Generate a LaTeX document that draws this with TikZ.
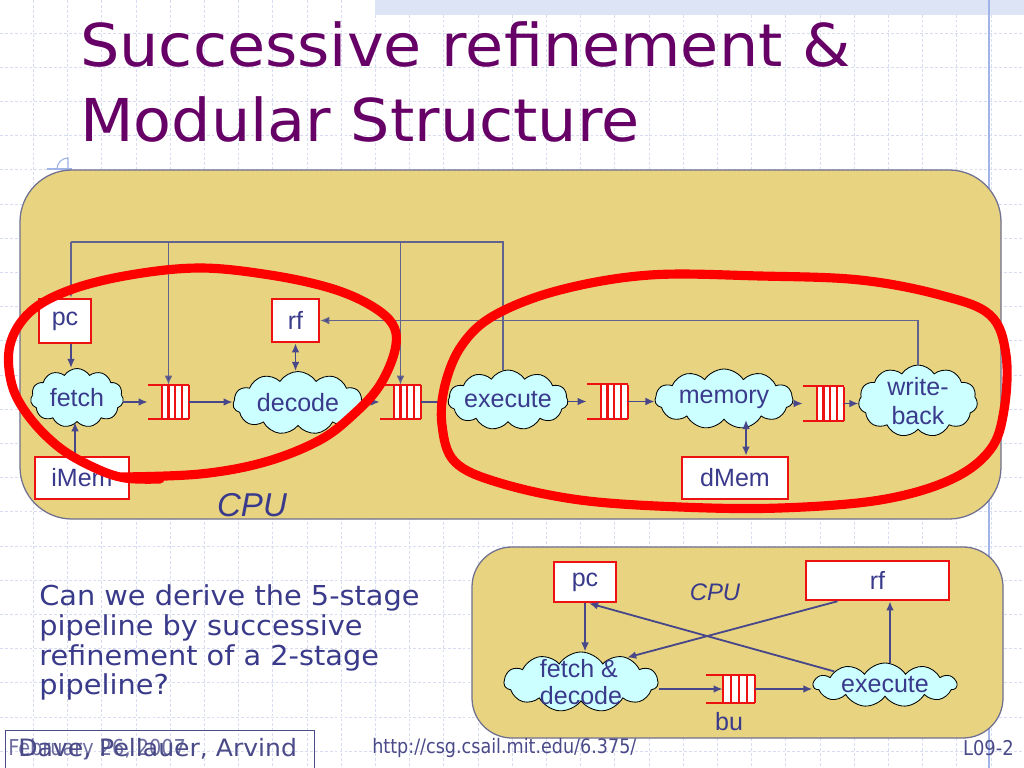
\documentclass[tikz,border=0pt]{standalone}
\usepackage{fontspec}
\setmainfont{Liberation Sans}
\newfontfamily\tahoma{DejaVu Sans}[FakeStretch=1.05]
\newfontfamily\tahomanarrow{DejaVu Sans}[FakeStretch=0.88]
\usetikzlibrary{shapes.symbols,arrows.meta,calc}
\definecolor{titlepurple}{HTML}{660066}
\definecolor{navy}{HTML}{3A3A8C}
\definecolor{arrowblue}{HTML}{47478A}
\definecolor{busgray}{HTML}{62628F}
\definecolor{boxfill}{HTML}{E8D480}
\definecolor{boxedge}{HTML}{707090}
\definecolor{cloudfill}{HTML}{CCFFFF}
\definecolor{regred}{HTML}{EE1111}
\definecolor{gridc}{HTML}{D8DCF0}
\definecolor{bandc}{HTML}{DCE4F6}
\definecolor{vlinec}{HTML}{A0B4E8}
\definecolor{bodyblue}{HTML}{3A3A8A}
\definecolor{footc}{HTML}{4A4A88}
\newcommand\pxu{0.025cm}
\tikzset{
  gridline/.style={draw=gridc, line width=0.7pt, dash pattern=on 2pt off 1.5pt},
  dtext/.style={text=navy, font=\fontsize{17.8}{20}\selectfont},
  reg/.style={dtext, draw=regred, fill=white, line width=1.8pt, inner sep=0pt},
  cl/.style={dtext, cloud, cloud puffs=11, cloud puff arc=115, cloud ignores aspect,
     draw=black, line width=0.6pt, fill=cloudfill, inner sep=-8pt, align=center},
  fifoline/.style={draw=regred, line width=1.6pt},
  arr/.style={draw=arrowblue, line width=1.3pt, -{Latex[length=6.5pt,width=5.5pt]}},
  arrtwo/.style={draw=arrowblue, line width=1.3pt, {Latex[length=6.5pt,width=5.5pt]}-{Latex[length=6.5pt,width=5.5pt]}},
  bus/.style={draw=busgray, line width=0.9pt},
  busarr/.style={draw=busgray, line width=0.9pt, -{Latex[length=6.5pt,width=5.5pt,fill=arrowblue]}},
  redloop/.style={draw=red, line width=6.5pt, line cap=round, line join=round},
}
\newcommand\fifobox[6]{%
  \node[inner sep=0pt, minimum width=#4*\pxu, minimum height=#5*\pxu] (#1) at (#2,#3) {};
  \fill[white] ([xshift=#6*\pxu]#1.south west) rectangle (#1.north east);
  \draw[fifoline] (#1.north west) -- (#1.north east) (#1.south west) -- (#1.south east);
  \foreach \k in {0,...,4}{\draw[fifoline] ($(#1.south west)+({#6+\k*(#4-#6)/4},0)$) -- ++(0,-#5);}
}
\begin{document}
\begin{tikzpicture}[x=0.025cm,y=-0.025cm]
\useasboundingbox (0,0) rectangle (1024,768);
\fill[white] (0,0) rectangle (1024,768);
% grid
\foreach \g in {0,...,29}{\draw[gridline] ({33.5+34.2*\g},0) -- ({33.5+34.2*\g},768);}
\foreach \g in {0,...,21}{\draw[gridline] (0,{33+34.2*\g}) -- (1024,{33+34.2*\g});}
\fill[bandc] (375,0) rectangle (1024,15);
\draw[vlinec, line width=0.9pt] (989,0) -- (989,768);
% small template mark
\draw[vlinec, line width=0.8pt] (47,169) -- (72,169);
\draw[vlinec, line width=0.8pt] (57,169) arc[start angle=180, end angle=90, radius=11*\pxu] -- (68,169);

% title
\node[anchor=base west, inner sep=0pt, text=titlepurple, font=\tahoma\fontsize{42}{50}\selectfont] (t1) at (80,67) {Successive refinement \&};
\node[anchor=base west, inner sep=0pt, text=titlepurple, font=\tahoma\fontsize{42}{50}\selectfont] (t2) at (80,142) {Modular Structure};

% big CPU box
\draw[fill=boxfill, draw=boxedge, line width=0.9pt, rounded corners=1.3cm] (20,170) rectangle (1001,519);

% registers
\node[reg, minimum width=52*\pxu, minimum height=44*\pxu] (pc) at (65,321) {pc};
\node[reg, minimum width=47*\pxu, minimum height=43*\pxu] (rf) at (295.5,320.5) {rf};
\node[reg, minimum width=94*\pxu, minimum height=42*\pxu] (im) at (82,478) {iMem};
\node[reg, minimum width=106*\pxu, minimum height=42*\pxu] (dm) at (735,478) {dMem};

% clouds
\node[cl, minimum width=93*\pxu, minimum height=59*\pxu] (fe) at (77,398) {fetch};
\node[cl, minimum width=130*\pxu, minimum height=63*\pxu] (de) at (298,403) {decode};
\node[cl, minimum width=120*\pxu, minimum height=60*\pxu] (ex) at (508,400) {execute};
\node[cl, minimum width=138*\pxu, minimum height=60*\pxu] (me) at (724,399) {memory};
\node[cl, minimum width=119*\pxu, minimum height=72*\pxu, font=\fontsize{17.8}{20}\selectfont] (wb) at (918,401) {write-\\back};

% fifos
\fifobox{f1}{168.5}{402}{41}{34}{14}
\fifobox{f2}{400.5}{402}{41}{34}{14}
\fifobox{f3}{607.5}{401.5}{41}{34}{14}
\fifobox{f4}{823.5}{403.5}{41}{34}{14}

% bus wires
\coordinate (busL) at (71,242);
\coordinate (exTop) at ([xshift=-5*\pxu]ex.north);
\draw[bus] (exTop) |- (busL);
\draw[busarr] (busL) -- (busL |- pc.north);
\draw[busarr] (f1.north |- busL) -- (f1.north);
\draw[busarr] (f2.north |- busL) -- (f2.north);
\draw[busarr] (wb.north) |- (rf.east);

% pipeline arrows
\draw[arr] (busL |- pc.south) -- (busL |- fe.north);
\coordinate (imTop) at ([xshift=-7*\pxu]im.north);
\draw[arr] (imTop) -- (imTop |- fe.south);
\draw[arrtwo] (rf.south) -- (rf.south |- de.north);
\coordinate (dmTop) at ([xshift=11*\pxu]dm.north);
\draw[arrtwo] (dmTop) -- (dmTop |- me.south);
\draw[arr] (fe.east |- f1.west) -- (f1.west);
\draw[arr] (f1.east) -- (de.west |- f1.east);
\draw[arr] (de.east |- f2.west) -- (f2.west);
\draw[arr] (f2.east) -- (ex.west |- f2.east);
\draw[arr] (ex.east |- f3.west) -- (f3.west);
\draw[arr] (f3.east) -- (me.west |- f3.east);
\draw[arr] (me.east |- f4.west) -- (f4.west);
\draw[arr] (f4.east) -- (wb.west |- f4.east);

\node[text=navy, font=\itshape\fontsize{23.5}{28}\selectfont] (cpuA) at (252,505) {CPU};

% red loops
\draw[redloop] plot[smooth, tension=0.6] coordinates {(120,477) (200,474) (265,462) (320,440) (355,413) (380,385) (395,350) (393,325) (370,305) (330,288) (270,275) (200,268) (130,275) (70,290) (30,312) (10,345) (12,385) (30,418) (60,448) (95,468) (125,478) (160,479)};
\draw[redloop] plot[smooth cycle, tension=0.6] coordinates {(650,275) (760,276) (860,280) (940,295) (990,315) (1006,355) (1004,410) (990,450) (950,480) (880,500) (780,508) (680,507) (580,500) (500,483) (455,462) (442,425) (445,385) (462,345) (495,315) (560,290)};

% question text
\node[anchor=north west, align=left, inner sep=0pt, text=bodyblue, font=\tahoma\fontsize{19.5}{21.3}\selectfont] (q) at (39,584) {Can we derive the 5-stage\\pipeline by successive\\refinement of a 2-stage\\pipeline?};

% small CPU box
\draw[fill=boxfill, draw=boxedge, line width=0.9pt, rounded corners=1cm] (472,547) rectangle (1003,738);
\node[reg, minimum width=62*\pxu, minimum height=40*\pxu] (pc2) at (585,582) {pc};
\node[reg, minimum width=143*\pxu, minimum height=39*\pxu] (rf2) at (877.5,580.5) {rf};
\node[text=navy, font=\itshape\fontsize{17}{20}\selectfont] (cpuB) at (715,592) {CPU};
\node[cl, minimum width=154*\pxu, minimum height=60*\pxu, align=left, font=\fontsize{17.8}{19.5}\selectfont] (fd) at (581,682) {fetch \&\\decode};
\node[cl, minimum width=143*\pxu, minimum height=44*\pxu] (ex2) at (885,685) {execute};
\fifobox{bu}{730.5}{689}{49}{28}{17}
\node[dtext] (bulabel) at (729,722) {bu};
\draw[arr] (pc2.south) -- (pc2.south |- fd.north);
\draw[arr] (ex2.165) -- ([xshift=4*\pxu]pc2.south);
\coordinate (rf2a) at ([xshift=-40*\pxu]rf2.south);
\draw[arr] (rf2a) -- (fd.28);
\coordinate (ex2top) at ([xshift=5*\pxu]ex2.north);
\draw[arr] (ex2top) -- (ex2top |- rf2.south);
\draw[arr] (fd.east |- bu.west) -- ([xshift=17*\pxu]bu.west);
\draw[arr] (bu.east) -- (ex2.west |- bu.east);

% footer
\node[draw=footc, line width=0.7pt, anchor=north west, inner sep=0pt, minimum width=309*\pxu, minimum height=46*\pxu] (fbox) at (5,730) {};
\node[anchor=west, inner sep=0pt, text=footc!80!white, font=\tahomanarrow\fontsize{15.6}{18}\selectfont] (date) at (8,749) {February 26, 2007};
\node[anchor=west, inner sep=0pt, text=footc, font=\tahoma\fontsize{17}{20}\selectfont] (authors) at (18,749) {Dave, Pellauer, Arvind};
\node[anchor=west, inner sep=0pt, text=footc, font=\tahomanarrow\fontsize{14.2}{17}\selectfont] (url) at (372,748) {http://csg.csail.mit.edu/6.375/};
\node[anchor=east, inner sep=0pt, text=footc, font=\tahomanarrow\fontsize{14.5}{17}\selectfont] (slide) at (1014,748) {L09-2};
\end{tikzpicture}
\end{document}
